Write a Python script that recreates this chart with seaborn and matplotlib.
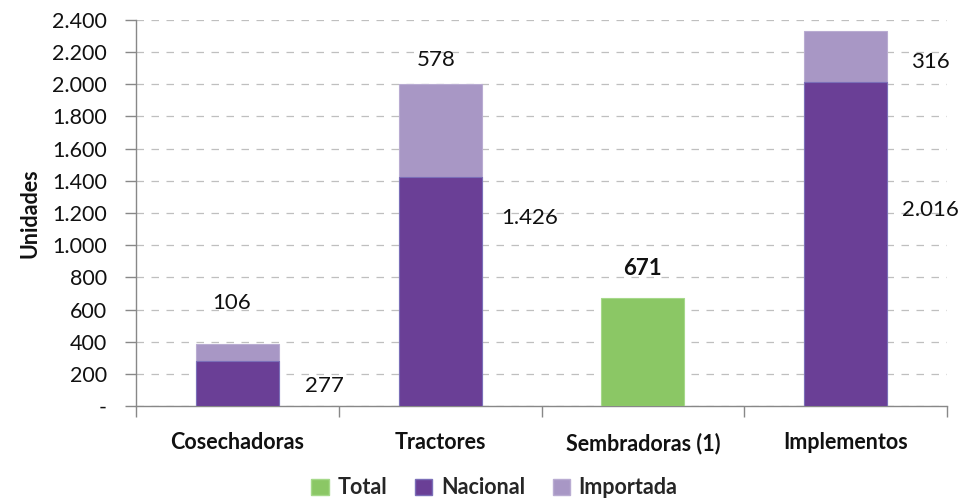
import matplotlib
matplotlib.use("Agg")
import matplotlib.pyplot as plt
from matplotlib.patches import Patch
from matplotlib.ticker import FixedLocator, FuncFormatter
import numpy as np
import pandas as pd
import seaborn as sns

categories = ["Cosechadoras", "Tractores", "Sembradoras (1)", "Implementos"]
nacional = [277, 1426, np.nan, 2016]
importada = [106, 578, np.nan, 316]
total = [np.nan, np.nan, 671, np.nan]
yticks = list(range(0, 2401, 200))

# label placement (x offset from category centre, y in data units)
nac_pos = [(0.43, 124), (0.44, 1169), None, (0.42, 1218)]
imp_pos = [(-0.03, 640), (-0.02, 2151), None, (0.42, 2139)]
tot_pos = [None, None, (0.0, 858), None]

c_nac = "#6A3F96"
c_imp = "#A897C5"
c_tot = "#8BC765"

sns.set_theme(style="white")
plt.rcParams["font.family"] = ["Lato", "DejaVu Sans"]

fig = plt.figure(figsize=(9.62, 5.0), dpi=100)
ax = fig.add_axes([0.1414, 0.188, 0.843, 0.772])

df = pd.DataFrame({"cat": categories, "nac": nacional, "imp": importada, "tot": total})
df["stack"] = df["nac"] + df["imp"]

bw = 0.41
sns.barplot(data=df, x="cat", y="stack", order=categories, color=c_imp, saturation=1,
            width=bw, edgecolor="#B9ACD2", linewidth=0.8, ax=ax, zorder=3)
sns.barplot(data=df, x="cat", y="nac", order=categories, color=c_nac, saturation=1,
            width=bw, edgecolor="#7B6FB8", linewidth=0.8, ax=ax, zorder=3)
sns.barplot(data=df, x="cat", y="tot", order=categories, color=c_tot, saturation=1,
            width=bw, edgecolor="#A6D98A", linewidth=0.8, ax=ax, zorder=3)

def fmt(v):
    return f"{int(v):,}".replace(",", ".")

fs = 16
for vals, pos, wt in [(nacional, nac_pos, "normal"), (importada, imp_pos, "normal"),
                      (total, tot_pos, "bold")]:
    for i, v in enumerate(vals):
        if not np.isnan(v):
            dx, y = pos[i]
            ax.text(i + dx, y, fmt(v), ha="center", va="center", fontsize=fs,
                    fontweight=wt, color="#111111", zorder=5)

ax.set_xlim(-0.5, 3.5)
ax.set_ylim(0, 2400)
ax.yaxis.set_major_locator(FixedLocator(yticks))
ax.yaxis.set_major_formatter(FuncFormatter(lambda v, p: "-" if v == 0 else fmt(v)))
ax.grid(axis="y", color="#BFBFBF", linestyle=(0, (6, 6)), linewidth=0.9, zorder=0)
ax.grid(axis="x", visible=False)

for s in ["top", "right"]:
    ax.spines[s].set_visible(False)
for s in ["left", "bottom"]:
    ax.spines[s].set_color("#888888")
    ax.spines[s].set_linewidth(1.0)

ax.tick_params(axis="y", which="major", left=True, length=8, width=1, color="#888888",
               labelsize=15.5, labelcolor="#111111", pad=13)
ax.set_xticks(range(len(categories)))
ax.set_xticklabels(categories, fontweight="bold", fontsize=15.5, color="#111111")
ax.tick_params(axis="x", which="major", bottom=False, length=0, pad=19)
ax.set_xticks([-0.5, 0.5, 1.5, 2.5, 3.5], minor=True)
ax.tick_params(axis="x", which="minor", bottom=True, length=8, width=1, color="#888888")

ax.set_xlabel("")
ax.set_ylabel("Unidades", fontweight="bold", fontsize=15.5, color="#111111", labelpad=8)

handles = [Patch(facecolor=c_tot, edgecolor="#A6D98A"),
           Patch(facecolor=c_nac, edgecolor="#7B6FB8"),
           Patch(facecolor=c_imp, edgecolor="#B9ACD2")]
fig.legend(handles, ["Total", "Nacional", "Importada"], loc="center",
           bbox_to_anchor=(0.514, 0.024), ncol=3, frameon=False,
           prop={"weight": "bold", "size": 15.5}, handlelength=0.8, handleheight=0.8,
           handletextpad=0.4, columnspacing=1.3)

fig.savefig("out.png", dpi=100)
